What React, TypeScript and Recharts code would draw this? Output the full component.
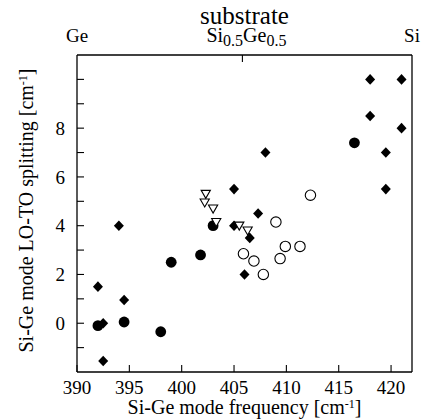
import React from 'react';
import { ScatterChart, Scatter, XAxis, YAxis, Label } from 'recharts';

// ---- data (Si-Ge mode frequency [cm-1], LO-TO splitting [cm-1]) ----
const diamondPoints = [
  { x: 392.0, y: 1.5 }, { x: 392.5, y: -1.55 }, { x: 392.5, y: 0.0 },
  { x: 394.0, y: 4.0 }, { x: 394.5, y: 0.95 }, { x: 405.0, y: 5.5 },
  { x: 405.0, y: 4.0 }, { x: 406.5, y: 3.5 }, { x: 406.0, y: 2.0 },
  { x: 407.3, y: 4.5 }, { x: 408.0, y: 7.0 }, { x: 418.0, y: 10.0 },
  { x: 421.0, y: 10.0 }, { x: 418.0, y: 8.5 }, { x: 421.0, y: 8.0 },
  { x: 419.5, y: 7.0 }, { x: 419.5, y: 5.5 },
];
const filledCirclePoints = [
  { x: 392.0, y: -0.1 }, { x: 394.5, y: 0.05 }, { x: 398.0, y: -0.35 },
  { x: 399.0, y: 2.5 }, { x: 401.8, y: 2.8 }, { x: 403.0, y: 4.0 },
  { x: 416.5, y: 7.4 },
];
const openCirclePoints = [
  { x: 405.9, y: 2.85 }, { x: 406.9, y: 2.55 }, { x: 407.8, y: 2.0 },
  { x: 409.4, y: 2.65 }, { x: 409.9, y: 3.15 }, { x: 411.3, y: 3.15 },
  { x: 409.0, y: 4.15 }, { x: 412.3, y: 5.25 },
];
const triangleDownPoints = [
  { x: 402.3, y: 5.3 }, { x: 402.2, y: 4.95 }, { x: 403.0, y: 4.7 },
  { x: 403.3, y: 4.15 }, { x: 405.5, y: 4.0 }, { x: 406.3, y: 3.8 },
];

const xDomain = [390, 422];
const yDomain = [-2, 11];
const xTicks = [390, 395, 400, 405, 410, 415, 420];
const yTicks = [-1, 0, 1, 2, 3, 4, 5, 6, 7, 8, 9, 10];
const yLabeled = [0, 2, 4, 6, 8];
const substrateTicks = [390, 405.8, 422];
const substrateNames = ['Ge', 'SiGe', 'Si'];

const FONT = '"Liberation Serif", "Times New Roman", serif';
const FRAME = { stroke: '#000', strokeWidth: 1.3 };

const Diamond = (p: any) => {
  const { cx, cy } = p;
  return <path d={`M${cx},${cy - 5.3}L${cx + 5},${cy}L${cx},${cy + 5.3}L${cx - 5},${cy}Z`} fill="#000" />;
};
const FilledCircle = (p: any) => <circle cx={p.cx} cy={p.cy} r={5.4} fill="#000" />;
const OpenCircle = (p: any) => (
  <circle cx={p.cx} cy={p.cy} r={5.2} fill="#fff" stroke="#000" strokeWidth={1.1} />
);
const TriangleDown = (p: any) => {
  const { cx, cy } = p;
  return (
    <path
      d={`M${cx - 4.6},${cy - 3.6}L${cx + 4.6},${cy - 3.6}L${cx},${cy + 4.4}Z`}
      fill="#fff"
      stroke="#000"
      strokeWidth={1.1}
    />
  );
};

const XTick = (p: any) => {
  const { x, y, payload } = p;
  return (
    <g>
      <line x1={x} y1={y} x2={x} y2={y - 7} stroke="#000" strokeWidth={1.1} />
      <text x={x} y={y + 22} textAnchor="middle" fontFamily={FONT} fontSize={19} fill="#000">
        {payload.value}
      </text>
    </g>
  );
};

const YTick = (p: any) => {
  const { x, y, payload } = p;
  const v = payload.value;
  return (
    <g>
      <line x1={x} y1={y} x2={x + 7} y2={y} stroke="#000" strokeWidth={1.1} />
      {yLabeled.includes(v) && (
        <text x={x - 12} y={y} dy="0.35em" textAnchor="end" fontFamily={FONT} fontSize={19} fill="#000">
          {v}
        </text>
      )}
    </g>
  );
};

const TopTick = (p: any) => {
  const { x, y, index } = p;
  const name = substrateNames[index];
  if (name === 'SiGe') {
    return (
      <g>
        <line x1={x} y1={y} x2={x} y2={y + 7} stroke="#000" strokeWidth={1.1} />
        <text x={x - 36} y={y - 13} textAnchor="start" fontFamily={FONT} fontSize={20} fill="#000">
          <tspan>Si</tspan>
          <tspan dy={4} fontSize={16}>0.5</tspan>
          <tspan dy={-4}>Ge</tspan>
          <tspan dy={4} fontSize={16}>0.5</tspan>
        </text>
      </g>
    );
  }
  return (
    <text x={x} y={y - 13} textAnchor="middle" fontFamily={FONT} fontSize={19} fill="#000">
      {name}
    </text>
  );
};

const XTitle = (p: any) => {
  const { x, y, width } = p.viewBox;
  return (
    <text x={x + width / 2} y={y + 42} textAnchor="middle" fontFamily={FONT} fontSize={20} fill="#000">
      <tspan>Si-Ge mode frequency [cm</tspan>
      <tspan dy={-6} fontSize={12}>-1</tspan>
      <tspan dy={6}>]</tspan>
    </text>
  );
};

const TopTitle = (p: any) => {
  const { x, y, width } = p.viewBox;
  return (
    <text x={x + width / 2} y={y - 30} textAnchor="middle" fontFamily={FONT} fontSize={25} fill="#000">
      substrate
    </text>
  );
};

const YTitle = (p: any) => {
  const { y, height } = p.viewBox;
  const cx = 33;
  const cy = y + height / 2 - 3;
  return (
    <text
      x={cx}
      y={cy}
      textAnchor="middle"
      transform={`rotate(-90, ${cx}, ${cy})`}
      fontFamily={FONT}
      fontSize={20}
      fill="#000"
    >
      <tspan>Si-Ge mode LO-TO splitting [cm</tspan>
      <tspan dy={-6} fontSize={12}>-1</tspan>
      <tspan dy={6}>]</tspan>
    </text>
  );
};

export default function App() {
  return (
    <div style={{ position: 'absolute', left: 0, top: 0, background: '#fff' }}>
      <ScatterChart width={422} height={419} margin={{ top: 54, right: 9, bottom: 46, left: 76 }}>
        <XAxis
          xAxisId="bottom"
          dataKey="x"
          type="number"
          domain={xDomain}
          ticks={xTicks}
          allowDataOverflow
          height={1}
          tickSize={0}
          tickMargin={0}
          tickLine={false}
          axisLine={FRAME}
          tick={<XTick />}
          interval={0}
        >
          <Label content={<XTitle />} />
        </XAxis>
        <XAxis
          xAxisId="top"
          orientation="top"
          dataKey="x"
          type="number"
          domain={xDomain}
          ticks={substrateTicks}
          allowDataOverflow
          height={1}
          tickSize={0}
          tickMargin={0}
          tickLine={false}
          axisLine={FRAME}
          tick={<TopTick />}
          interval={0}
        >
          <Label content={<TopTitle />} />
        </XAxis>
        <YAxis
          yAxisId="left"
          dataKey="y"
          type="number"
          domain={yDomain}
          ticks={yTicks}
          allowDataOverflow
          width={1}
          tickSize={0}
          tickMargin={0}
          tickLine={false}
          axisLine={FRAME}
          tick={<YTick />}
          interval={0}
        >
          <Label content={<YTitle />} />
        </YAxis>
        <YAxis
          yAxisId="right"
          orientation="right"
          dataKey="y"
          type="number"
          domain={yDomain}
          allowDataOverflow
          width={1}
          tickSize={0}
          tickLine={false}
          tick={false}
          axisLine={FRAME}
        />
        <Scatter xAxisId="bottom" yAxisId="left" data={diamondPoints} shape={<Diamond />} isAnimationActive={false} />
        <Scatter xAxisId="bottom" yAxisId="left" data={filledCirclePoints} shape={<FilledCircle />} isAnimationActive={false} />
        <Scatter xAxisId="bottom" yAxisId="right" data={openCirclePoints} shape={<OpenCircle />} isAnimationActive={false} />
        <Scatter xAxisId="top" yAxisId="left" data={triangleDownPoints} shape={<TriangleDown />} isAnimationActive={false} />
      </ScatterChart>
    </div>
  );
}
